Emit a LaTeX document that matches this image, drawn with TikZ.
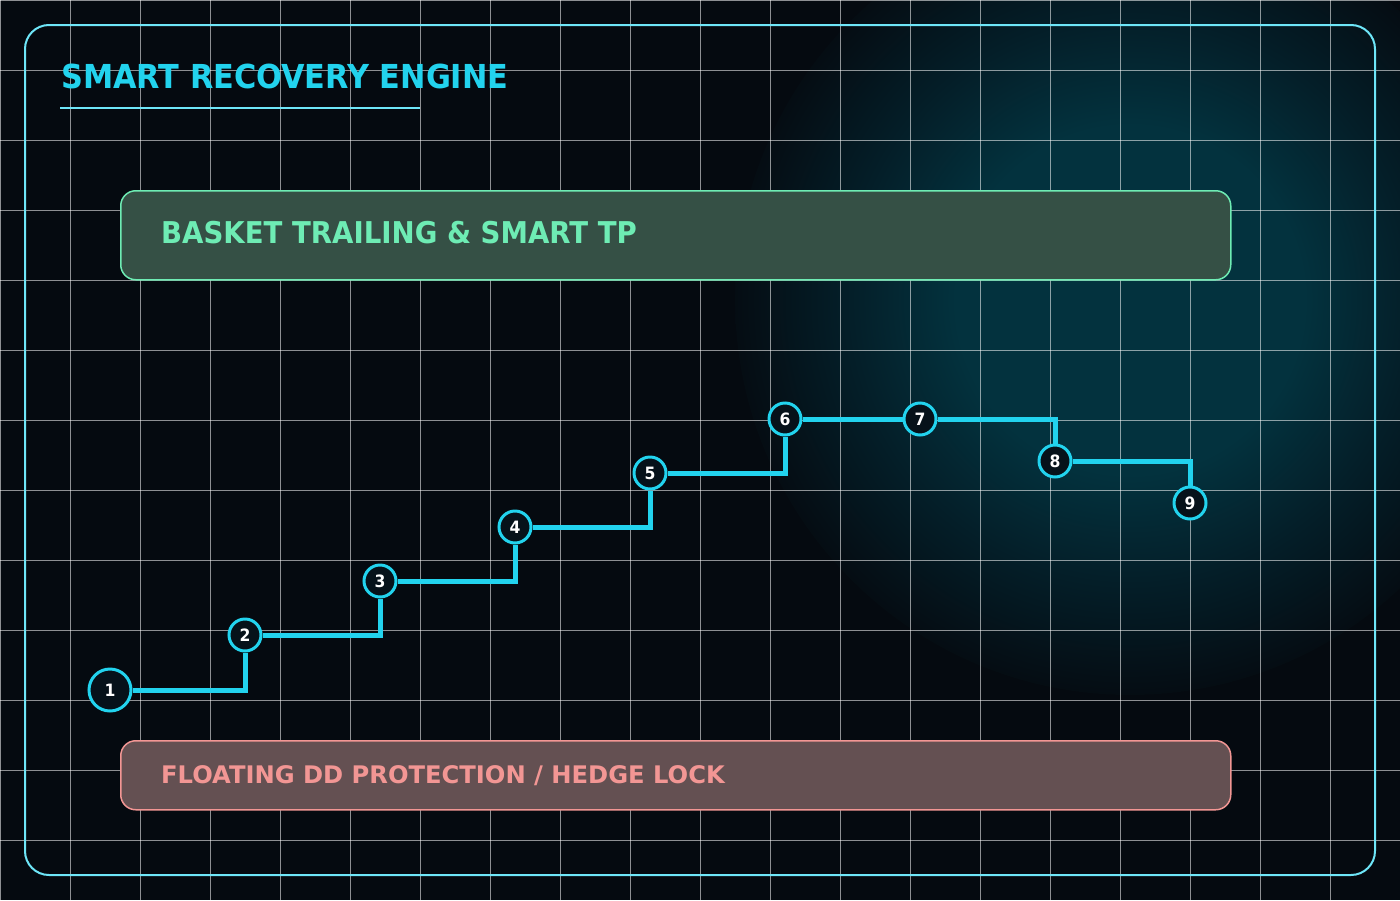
\documentclass[tikz,border=0pt]{standalone}
\usepackage{fontspec}
\setmainfont{DejaVu Sans}
\newfontfamily\tightfont[FakeStretch=0.92]{DejaVu Sans}
\usetikzlibrary{positioning}
\definecolor{pBack}{RGB}{5,10,16}
\definecolor{pGlow}{RGB}{3,50,62}
\definecolor{pGlowMid}{RGB}{4,30,40}
\definecolor{pCyan}{RGB}{34,211,238}
\definecolor{pFrame}{RGB}{110,230,248}
\definecolor{pGreen}{RGB}{110,236,180}
\definecolor{pGreenBox}{RGB}{53,80,69}
\definecolor{pRed}{RGB}{242,150,148}
\definecolor{pRedBox}{RGB}{100,80,82}
\definecolor{pDot}{RGB}{6,18,26}
\pgfdeclareradialshading{glow}{\pgfpoint{0bp}{0bp}}{color(0bp)=(pGlow); color(11bp)=(pGlow); color(18bp)=(pGlowMid); color(26bp)=(pBack); color(50bp)=(pBack)}
\tikzset{
    stage/.style={circle, draw=pCyan, line width=3pt, fill=pDot, text=white, inner sep=0pt,
        minimum size=32pt, font=\tightfont\bfseries\fontsize{17}{17}\selectfont},
    stagebig/.style={stage, minimum size=42pt},
    link/.style={pCyan, line width=5pt},
    band/.style={rounded corners=15pt, line width=1.5pt, minimum width=1110pt, anchor=north west},
    gridline/.style={white, opacity=0.55, line width=1pt}
}

\begin{document}
\begin{tikzpicture}[x=1pt,y=-1pt]
\useasboundingbox (0,0) rectangle (1400,900);
\fill[pBack] (0,0) rectangle (1400,900);
\begin{scope}
\clip (0,0) rectangle (1400,900);
\shade[shading=glow] (1130,300) circle (395);
\end{scope}
\foreach \gx in {0,70,...,1400} \draw[gridline] (\gx,0) -- (\gx,900);
\foreach \gy in {0,70,...,840} \draw[gridline] (0,\gy) -- (1400,\gy);
\draw[pFrame, line width=2pt, rounded corners=24pt] (25,25) rectangle (1375,875);
\node[anchor=base west, inner sep=0pt, text=pCyan, font=\tightfont\bfseries\fontsize{33}{33}\selectfont] (title) at (61,88) {SMART RECOVERY ENGINE};
\draw[pFrame, line width=2pt] (60,108) -- (420,108);
\node[band, draw=pGreen, fill=pGreenBox, minimum height=89pt] (trail) at (120,190) {};
\node[anchor=west, inner sep=0pt, text=pGreen, font=\tightfont\bfseries\fontsize{30}{30}\selectfont] (trailtxt) at ([xshift=41pt,yshift=3pt]trail.west) {BASKET TRAILING \& SMART TP};
\node[band, draw=pRed, fill=pRedBox, minimum height=69pt] (hedge) at (120,740) {};
\node[anchor=west, inner sep=0pt, text=pRed, font=\bfseries\fontsize{24.2}{24.2}\selectfont] (hedgetxt) at ([xshift=41pt]hedge.west) {FLOATING DD PROTECTION / HEDGE LOCK};
\node[stagebig] (s1) at (110,690) {1};
\node[stage] (s2) at (245,635) {2};
\node[stage] (s3) at (380,581) {3};
\node[stage] (s4) at (515,527) {4};
\node[stage] (s5) at (650,473) {5};
\node[stage] (s6) at (785,419) {6};
\node[stage] (s7) at (920,419) {7};
\node[stage] (s8) at (1055,461) {8};
\node[stage] (s9) at (1190,503) {9};
\draw[link] (s1) -| (s2);
\draw[link] (s2) -| (s3);
\draw[link] (s3) -| (s4);
\draw[link] (s4) -| (s5);
\draw[link] (s5) -| (s6);
\draw[link] (s6) -- (s7);
\draw[link] (s7) -| (s8);
\draw[link] (s8) -| (s9);
\end{tikzpicture}
\end{document}
